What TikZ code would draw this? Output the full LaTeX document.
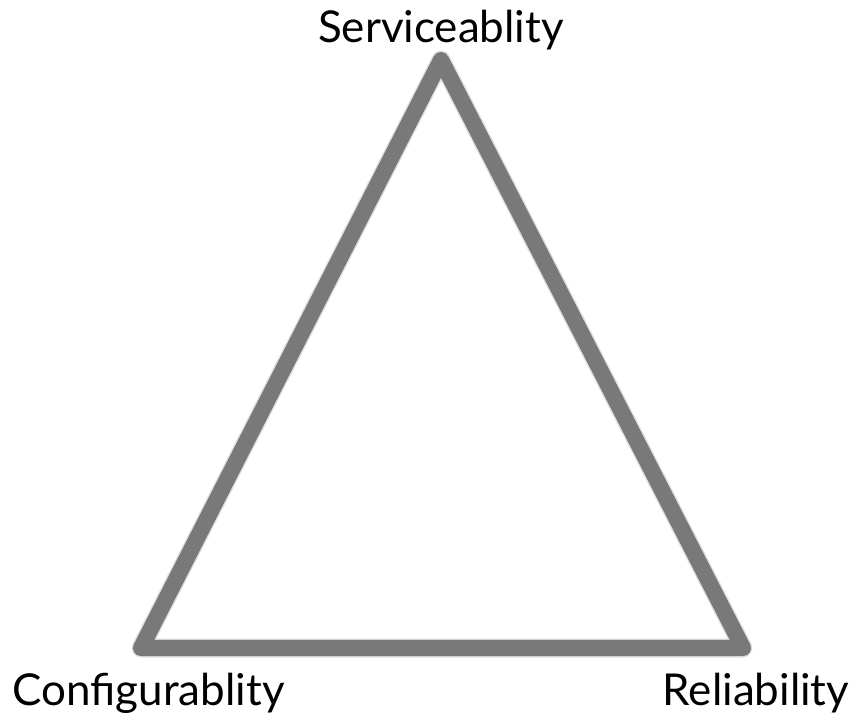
\documentclass[tikz,border=0pt]{standalone}
\usepackage{fontspec}
\setmainfont{Lato}
\usepackage{tikz}

\begin{document}
\begin{tikzpicture}

    \tikzstyle{side} = [draw=gray!95!black, line width=4.6pt, line join=round, line cap=round]
    \tikzstyle{shade} = [draw=black, opacity=0.12, line width=5.4pt, line join=round, line cap=round]
    \tikzstyle{corner} = [font=\fontsize{12.5}{15}\selectfont, inner sep=0pt]

    \useasboundingbox (0,0) rectangle (8.57,-7.15);

    % Corners
    \coordinate (S) at (4.41,-0.60);
    \coordinate (C) at (1.41,-6.48);
    \coordinate (R) at (7.43,-6.48);

    % Triangle
    \draw[shade, shift={(0.02,-0.03)}] (S) -- (C) -- (R) -- cycle;
    \draw[side] (S) -- (C) -- (R) -- cycle;

    % Labels
    \node[corner, anchor=base] (serv) at (4.41,-0.42) {Serviceablity};
    \node[corner, anchor=base west] (conf) at (0.12,-7.05) {Configurablity};
    \node[corner, anchor=base east] (reli) at (8.50,-7.05) {Reliability};

\end{tikzpicture}
\end{document}
